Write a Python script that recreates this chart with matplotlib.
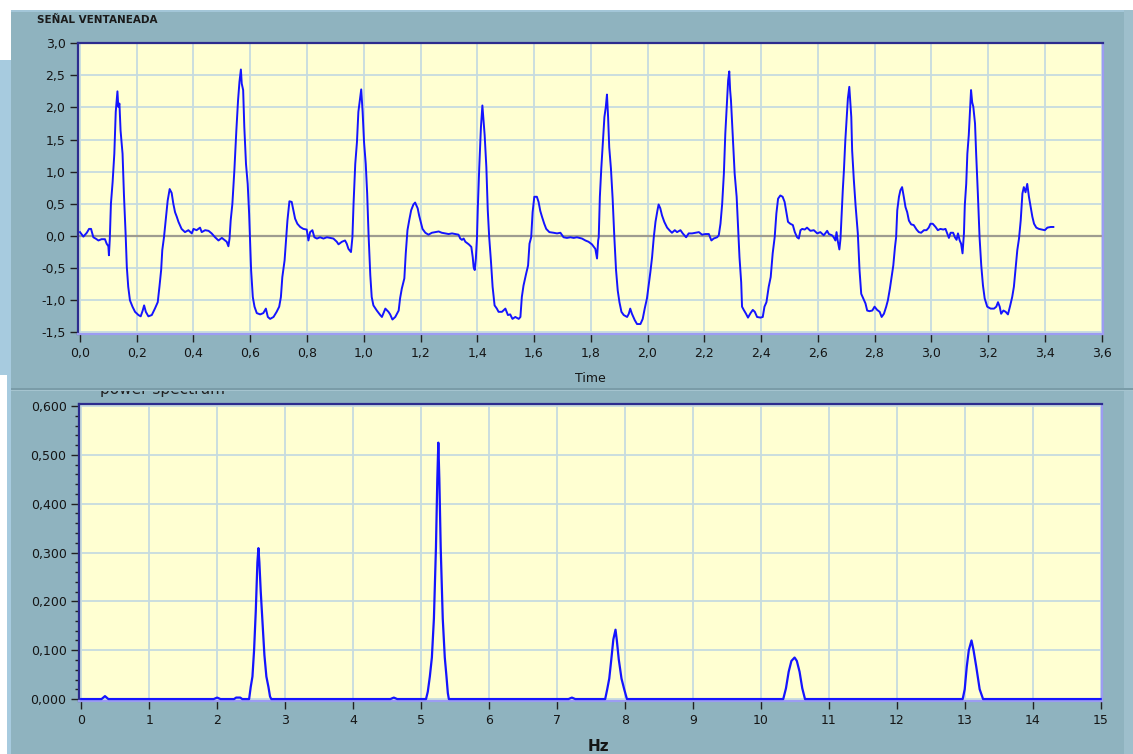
import matplotlib
matplotlib.use("Agg")
import matplotlib.pyplot as plt
from matplotlib.patches import Rectangle
from matplotlib.ticker import FuncFormatter, MultipleLocator

# windowed signal (time in s, amplitude)
time_s = [
    0.000, 0.012, 0.024, 0.032, 0.039, 0.047, 0.055, 0.065, 0.076, 0.088,
    0.094, 0.100, 0.102, 0.105, 0.109, 0.115, 0.121, 0.126, 0.132, 0.135,
    0.139, 0.143, 0.150, 0.155, 0.161, 0.165, 0.170, 0.176, 0.185, 0.194,
    0.206, 0.214, 0.221, 0.226, 0.232, 0.241, 0.253, 0.264, 0.274, 0.280,
    0.286, 0.290, 0.296, 0.302, 0.309, 0.316, 0.323, 0.329, 0.335, 0.341,
    0.347, 0.358, 0.370, 0.382, 0.394, 0.400, 0.411, 0.423, 0.429, 0.441,
    0.453, 0.464, 0.476, 0.488, 0.500, 0.511, 0.517, 0.523, 0.527, 0.531,
    0.537, 0.544, 0.551, 0.557, 0.562, 0.567, 0.570, 0.575, 0.579, 0.585,
    0.591, 0.596, 0.599, 0.603, 0.609, 0.615, 0.623, 0.635, 0.646, 0.655,
    0.662, 0.670, 0.682, 0.693, 0.702, 0.708, 0.713, 0.721, 0.726, 0.731,
    0.738, 0.746, 0.752, 0.758, 0.766, 0.776, 0.787, 0.799, 0.805, 0.811,
    0.819, 0.826, 0.835, 0.846, 0.858, 0.870, 0.882, 0.893, 0.905, 0.911,
    0.923, 0.934, 0.940, 0.946, 0.955, 0.960, 0.964, 0.970, 0.976, 0.981,
    0.987, 0.991, 0.996, 1.001, 1.007, 1.012, 1.017, 1.023, 1.028, 1.034,
    1.046, 1.058, 1.064, 1.076, 1.087, 1.093, 1.101, 1.111, 1.123, 1.128,
    1.134, 1.143, 1.148, 1.154, 1.160, 1.167, 1.175, 1.181, 1.190, 1.195,
    1.202, 1.207, 1.217, 1.228, 1.240, 1.252, 1.264, 1.275, 1.287, 1.299,
    1.311, 1.323, 1.334, 1.340, 1.346, 1.352, 1.358, 1.370, 1.379, 1.384,
    1.387, 1.391, 1.395, 1.399, 1.402, 1.407, 1.413, 1.418, 1.421, 1.426,
    1.432, 1.437, 1.442, 1.448, 1.454, 1.461, 1.469, 1.475, 1.487, 1.499,
    1.508, 1.516, 1.524, 1.534, 1.546, 1.552, 1.557, 1.563, 1.572, 1.579,
    1.584, 1.590, 1.595, 1.601, 1.610, 1.616, 1.622, 1.628, 1.636, 1.643,
    1.654, 1.669, 1.681, 1.693, 1.704, 1.716, 1.728, 1.740, 1.751, 1.769,
    1.781, 1.792, 1.804, 1.816, 1.822, 1.826, 1.828, 1.832, 1.837, 1.842,
    1.848, 1.853, 1.857, 1.861, 1.865, 1.871, 1.877, 1.883, 1.889, 1.895,
    1.901, 1.908, 1.916, 1.928, 1.934, 1.939, 1.945, 1.955, 1.963, 1.975,
    1.983, 1.990, 1.998, 2.004, 2.010, 2.016, 2.022, 2.028, 2.035, 2.039,
    2.045, 2.051, 2.059, 2.069, 2.077, 2.086, 2.096, 2.104, 2.116, 2.124,
    2.136, 2.145, 2.157, 2.169, 2.181, 2.192, 2.204, 2.216, 2.225, 2.233,
    2.245, 2.251, 2.257, 2.263, 2.269, 2.274, 2.280, 2.284, 2.288, 2.291,
    2.294, 2.300, 2.307, 2.314, 2.319, 2.324, 2.330, 2.333, 2.339, 2.347,
    2.354, 2.363, 2.371, 2.378, 2.386, 2.398, 2.406, 2.412, 2.419, 2.427,
    2.434, 2.441, 2.448, 2.454, 2.460, 2.468, 2.476, 2.483, 2.489, 2.495,
    2.503, 2.512, 2.519, 2.527, 2.533, 2.539, 2.545, 2.554, 2.562, 2.574,
    2.586, 2.598, 2.609, 2.621, 2.633, 2.639, 2.650, 2.656, 2.662, 2.666,
    2.670, 2.676, 2.680, 2.683, 2.688, 2.692, 2.697, 2.702, 2.706, 2.711,
    2.715, 2.718, 2.721, 2.727, 2.733, 2.741, 2.747, 2.753, 2.760, 2.768,
    2.774, 2.782, 2.792, 2.800, 2.809, 2.818, 2.825, 2.833, 2.841, 2.847,
    2.854, 2.860, 2.866, 2.872, 2.876, 2.880, 2.886, 2.891, 2.897, 2.903,
    2.909, 2.915, 2.921, 2.929, 2.938, 2.948, 2.956, 2.964, 2.974, 2.983,
    2.991, 2.997, 3.005, 3.015, 3.023, 3.032, 3.042, 3.050, 3.056, 3.062,
    3.068, 3.077, 3.083, 3.089, 3.094, 3.100, 3.105, 3.110, 3.115, 3.118,
    3.123, 3.127, 3.132, 3.136, 3.140, 3.144, 3.148, 3.154, 3.158, 3.164,
    3.170, 3.176, 3.182, 3.188, 3.197, 3.209, 3.221, 3.229, 3.235, 3.241,
    3.246, 3.254, 3.262, 3.270, 3.277, 3.285, 3.291, 3.297, 3.303, 3.309,
    3.315, 3.321, 3.326, 3.332, 3.338, 3.344, 3.350, 3.356, 3.362, 3.370,
    3.379, 3.389, 3.400, 3.409, 3.421, 3.430,
]
amplitude = [
    0.06, -0.01, 0.05, 0.11, 0.11, -0.02, -0.04, -0.07, -0.05, -0.05,
    -0.12, -0.16, -0.30, -0.05, 0.50, 0.84, 1.28, 1.93, 2.25, 2.01,
    2.06, 1.64, 1.28, 0.63, 0.01, -0.48, -0.79, -1.00, -1.10, -1.18,
    -1.23, -1.25, -1.16, -1.08, -1.18, -1.25, -1.23, -1.13, -1.03, -0.79,
    -0.53, -0.22, -0.02, 0.24, 0.55, 0.73, 0.67, 0.50, 0.37, 0.30,
    0.22, 0.11, 0.06, 0.09, 0.04, 0.11, 0.09, 0.13, 0.06, 0.09,
    0.08, 0.04, -0.02, -0.07, -0.03, -0.07, -0.09, -0.16, -0.04, 0.24,
    0.50, 1.02, 1.64, 2.11, 2.40, 2.59, 2.37, 2.27, 1.70, 1.12,
    0.81, 0.35, -0.02, -0.53, -0.95, -1.10, -1.20, -1.22, -1.20, -1.13,
    -1.26, -1.29, -1.26, -1.18, -1.10, -0.95, -0.64, -0.38, -0.07, 0.24,
    0.54, 0.53, 0.40, 0.27, 0.19, 0.14, 0.11, 0.10, -0.07, 0.06,
    0.09, -0.02, -0.04, -0.02, -0.04, -0.02, -0.03, -0.04, -0.09, -0.13,
    -0.09, -0.07, -0.12, -0.20, -0.25, -0.02, 0.50, 1.12, 1.46, 1.93,
    2.14, 2.28, 1.93, 1.46, 1.12, 0.66, 0.01, -0.61, -0.95, -1.08,
    -1.16, -1.23, -1.26, -1.13, -1.18, -1.22, -1.30, -1.26, -1.16, -0.97,
    -0.82, -0.66, -0.27, 0.09, 0.24, 0.40, 0.49, 0.52, 0.43, 0.32,
    0.20, 0.11, 0.05, 0.02, 0.05, 0.06, 0.07, 0.05, 0.04, 0.03,
    0.04, 0.03, 0.02, -0.04, -0.06, -0.04, -0.09, -0.13, -0.17, -0.33,
    -0.48, -0.53, -0.35, -0.02, 0.45, 1.07, 1.70, 2.03, 1.85, 1.57,
    1.07, 0.40, -0.02, -0.38, -0.79, -1.08, -1.13, -1.18, -1.18, -1.13,
    -1.23, -1.22, -1.29, -1.26, -1.29, -1.26, -0.95, -0.77, -0.59, -0.46,
    -0.12, -0.02, 0.37, 0.61, 0.61, 0.53, 0.39, 0.30, 0.19, 0.11,
    0.06, 0.05, 0.04, 0.05, -0.02, -0.03, -0.02, -0.03, -0.02, -0.04,
    -0.07, -0.09, -0.13, -0.20, -0.35, -0.07, -0.02, 0.61, 1.05, 1.41,
    1.85, 2.01, 2.20, 1.85, 1.38, 1.05, 0.58, -0.02, -0.53, -0.85,
    -1.03, -1.18, -1.23, -1.26, -1.21, -1.13, -1.21, -1.31, -1.37, -1.37,
    -1.29, -1.13, -0.97, -0.77, -0.56, -0.33, -0.02, 0.22, 0.40, 0.49,
    0.43, 0.32, 0.22, 0.13, 0.09, 0.05, 0.09, 0.06, 0.09, 0.04,
    -0.02, 0.04, 0.04, 0.05, 0.06, 0.02, 0.03, 0.03, -0.07, -0.04,
    -0.02, 0.01, 0.19, 0.50, 0.97, 1.59, 2.08, 2.42, 2.56, 2.27,
    2.11, 1.59, 0.97, 0.61, 0.14, -0.33, -0.72, -1.10, -1.15, -1.21,
    -1.27, -1.20, -1.15, -1.18, -1.26, -1.27, -1.26, -1.10, -1.03, -0.79,
    -0.64, -0.27, -0.02, 0.35, 0.58, 0.63, 0.61, 0.53, 0.37, 0.22,
    0.19, 0.17, 0.06, -0.02, -0.04, 0.09, 0.11, 0.10, 0.13, 0.08,
    0.09, 0.04, 0.06, 0.01, 0.08, 0.03, 0.01, -0.02, -0.07, 0.06,
    -0.07, -0.21, -0.04, 0.24, 0.71, 1.02, 1.49, 1.85, 2.14, 2.32,
    2.06, 1.85, 1.33, 0.87, 0.48, 0.04, -0.53, -0.90, -0.97, -1.05,
    -1.16, -1.17, -1.16, -1.10, -1.15, -1.18, -1.26, -1.21, -1.10, -1.00,
    -0.82, -0.64, -0.46, -0.17, -0.02, 0.40, 0.61, 0.71, 0.76, 0.61,
    0.45, 0.37, 0.24, 0.18, 0.17, 0.10, 0.06, 0.05, 0.09, 0.09,
    0.13, 0.19, 0.19, 0.14, 0.09, 0.11, 0.10, 0.11, 0.04, -0.03,
    0.05, 0.05, -0.02, -0.06, 0.04, -0.07, -0.12, -0.27, 0.04, 0.48,
    0.81, 1.28, 1.57, 1.93, 2.27, 2.08, 2.01, 1.75, 1.28, 0.66,
    -0.02, -0.46, -0.77, -0.97, -1.10, -1.13, -1.13, -1.10, -1.03, -1.10,
    -1.21, -1.16, -1.18, -1.22, -1.10, -0.95, -0.79, -0.51, -0.22, -0.04,
    0.24, 0.66, 0.76, 0.68, 0.81, 0.61, 0.45, 0.30, 0.19, 0.13,
    0.11, 0.10, 0.09, 0.13, 0.14, 0.14,
]

# power spectrum (Hz, power)
freq_hz = [
    0.00, 0.30, 0.35, 0.40, 1.95, 2.00, 2.05, 2.25, 2.28, 2.34, 2.37,
    2.471, 2.495, 2.520, 2.544, 2.569, 2.593, 2.608, 2.622, 2.642, 2.671,
    2.696, 2.725, 2.755, 2.779, 2.798,
    4.55, 4.60, 4.65,
    5.074, 5.100, 5.130, 5.160, 5.190, 5.220, 5.240, 5.255, 5.270, 5.290,
    5.320, 5.350, 5.375, 5.395, 5.410,
    7.17, 7.22, 7.27,
    7.71, 7.74, 7.77, 7.80, 7.83, 7.862, 7.88, 7.91, 7.95, 7.99, 8.03,
    10.33, 10.37, 10.41, 10.45, 10.497, 10.53, 10.57, 10.61, 10.65,
    12.97, 13.00, 13.03, 13.06, 13.10, 13.13, 13.17, 13.22, 13.27,
    15.00,
]
power = [
    0.000, 0.000, 0.006, 0.000, 0.000, 0.003, 0.000, 0.000, 0.003, 0.003, 0.000,
    0.000, 0.025, 0.046, 0.100, 0.180, 0.280, 0.309, 0.280, 0.220, 0.150,
    0.090, 0.046, 0.025, 0.005, 0.000,
    0.000, 0.003, 0.000,
    0.000, 0.015, 0.046, 0.085, 0.165, 0.310, 0.450, 0.525, 0.450, 0.310,
    0.165, 0.085, 0.046, 0.012, 0.000,
    0.000, 0.003, 0.000,
    0.000, 0.020, 0.042, 0.081, 0.122, 0.142, 0.122, 0.081, 0.042, 0.020, 0.000,
    0.000, 0.022, 0.056, 0.078, 0.085, 0.078, 0.056, 0.022, 0.000,
    0.000, 0.020, 0.066, 0.100, 0.120, 0.100, 0.066, 0.020, 0.000,
    0.000,
]

top_title = "SEÑAL VENTANEADA"
bottom_title = "power spectrum"

W, H = 1133, 754
fig = plt.figure(figsize=(W / 100, H / 100), dpi=100)
fig.patch.set_facecolor("white")


def px_rect(x0, y0, x1, y1, color, z):
    # rectangle given in pixel coords from the top left corner
    r = Rectangle((x0 / W, 1 - y1 / H), (x1 - x0) / W, (y1 - y0) / H,
                  transform=fig.transFigure, facecolor=color, edgecolor="none",
                  zorder=z)
    fig.add_artist(r)


panel = "#8fb3bf"
light = "#a7cbdf"
# window frames
px_rect(0, 60, 11, 375, light, 0.1)
px_rect(7, 375, 11, 754, light, 0.1)
px_rect(11, 389, 1124, 754, panel, 0.1)
px_rect(1124, 389, 1133, 754, "#9ebfcc", 0.1)
# subtitle half hidden behind the upper panel
fig.text(100 / W, 1 - 394.5 / H, bottom_title, fontsize=11, color="#202020",
         ha="left", va="baseline", zorder=0.5)
px_rect(11, 10, 1124, 389, panel, 1)
px_rect(11, 10, 1133, 12, "#a3c6d8", 1.1)
px_rect(1124, 10, 1133, 389, "#9ebfcc", 1.1)
px_rect(11, 388, 1133, 389.5, "#7a9ca8", 1.2)
px_rect(11, 389.5, 1133, 391, "#a5c4cf", 1.2)

fig.text(37 / W, 1 - 20 / H, top_title, fontsize=7.5, fontweight="bold",
         color="#1a1a1a", ha="left", va="center", zorder=2)


def style_axes(ax):
    ax.set_facecolor("#ffffd2")
    ax.grid(True, color="#c6dbe0", linewidth=1.3)
    ax.set_axisbelow(True)
    for side in ("top", "left"):
        ax.spines[side].set_color("#2c2c8e")
        ax.spines[side].set_linewidth(1.6)
    for side in ("bottom", "right"):
        ax.spines[side].set_color("#9c9cf2")
        ax.spines[side].set_linewidth(1.6)
    ax.tick_params(direction="out", length=6, width=1, color="#202020",
                   labelsize=9, labelcolor="#151515", pad=3)


# top: windowed signal
ax1 = fig.add_axes([78 / W, 1 - 334 / H, 1025 / W, 291.5 / H], zorder=5)
style_axes(ax1)
ax1.axhline(0, color="#9e9c90", linewidth=1.6, zorder=1.5)
ax1.plot(time_s, amplitude, color="#1414ff", linewidth=1.4, zorder=3)
ax1.set_xlim(-0.007, 3.605)
ax1.set_ylim(-1.525, 3.01)
ax1.xaxis.set_major_locator(MultipleLocator(0.2))
ax1.yaxis.set_major_locator(MultipleLocator(0.5))
ax1.xaxis.set_major_formatter(FuncFormatter(lambda v, p: ("%.1f" % v).replace(".", ",")))
ax1.yaxis.set_major_formatter(FuncFormatter(lambda v, p: ("%.1f" % v).replace(".", ",")))
ax1.set_xlabel("Time", fontsize=9, color="#151515", labelpad=9)

# bottom: power spectrum
ax2 = fig.add_axes([79 / W, 1 - 701 / H, 1023 / W, 296.7 / H], zorder=5)
style_axes(ax2)
ax2.plot(freq_hz, power, color="#1414ff", linewidth=1.6, zorder=3, clip_on=False)
ax2.set_xlim(-0.032, 15.02)
ax2.set_ylim(-0.004, 0.6035)
ax2.xaxis.set_major_locator(MultipleLocator(1))
ax2.yaxis.set_major_locator(MultipleLocator(0.1))
ax2.yaxis.set_minor_locator(MultipleLocator(0.02))
ax2.tick_params(axis="y", which="minor", direction="out", length=3, width=1,
                color="#202020")
ax2.xaxis.set_major_formatter(FuncFormatter(lambda v, p: "%d" % round(v)))
ax2.yaxis.set_major_formatter(FuncFormatter(lambda v, p: ("%.3f" % v).replace(".", ",")))

fig.text(598 / W, 1 - 739 / H, "Hz", fontsize=11, fontweight="bold",
         color="#151515", ha="center", va="top", zorder=6)

fig.savefig("out.png", dpi=100, facecolor=fig.get_facecolor())
